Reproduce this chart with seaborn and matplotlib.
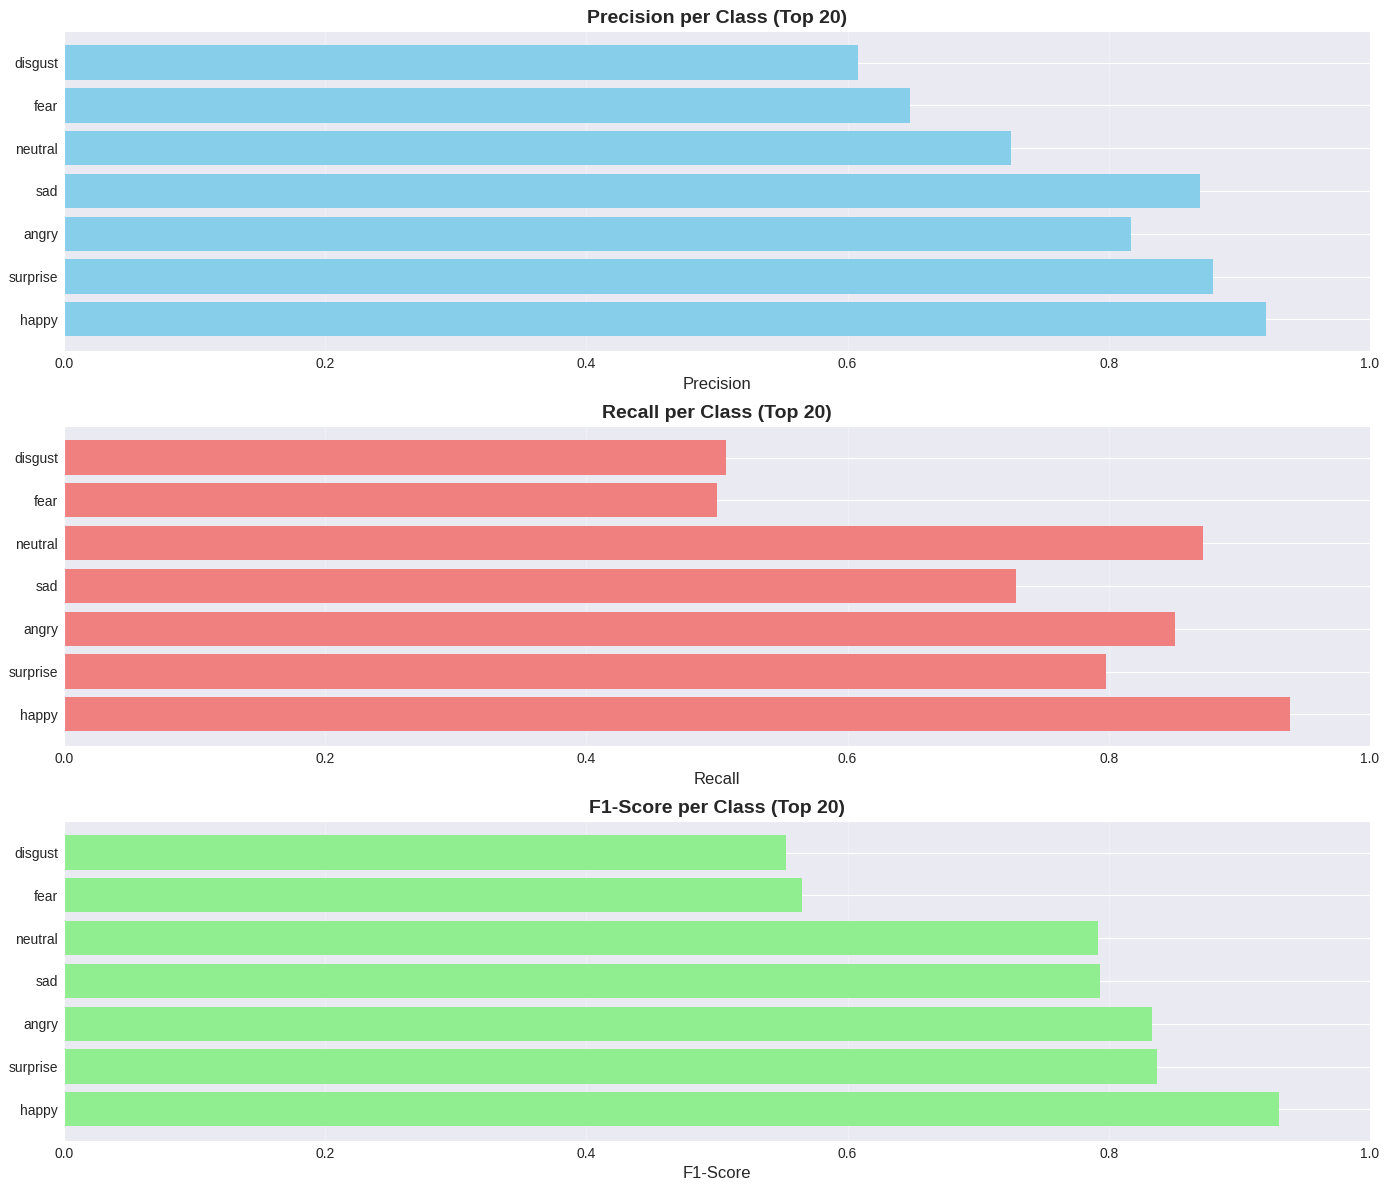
import pandas as pd
import matplotlib
matplotlib.use("Agg")
import matplotlib.pyplot as plt
import seaborn as sns

# class order from top to bottom, as in the picture
classes = ["disgust", "fear", "neutral", "sad", "angry", "surprise", "happy"]
precision = [0.608, 0.648, 0.725, 0.870, 0.817, 0.880, 0.920]
recall = [0.507, 0.500, 0.872, 0.729, 0.851, 0.798, 0.939]
f1_score = [0.553, 0.565, 0.792, 0.793, 0.833, 0.837, 0.930]

metrics = [
    ("Precision", precision, "skyblue"),
    ("Recall", recall, "lightcoral"),
    ("F1-Score", f1_score, "lightgreen"),
]

sns.set_style("darkgrid")
plt.rcParams["font.family"] = ["Liberation Sans", "DejaVu Sans"]

fig, axes = plt.subplots(3, 1, figsize=(13.9, 11.9), dpi=100)

for ax, (name, values, color) in zip(axes, metrics):
    df = pd.DataFrame({"Class": classes, name: values})
    sns.barplot(data=df, x=name, y="Class", order=classes, color=color,
                saturation=1, width=0.8, linewidth=0, ax=ax)
    ax.set_xlim(0, 1.0)
    ax.set_ylim(6.74, -0.74)
    ax.set_xlabel(name, fontsize=12)
    ax.set_ylabel("")
    ax.set_title(f"{name} per Class (Top 20)", fontsize=14, fontweight="bold")
    ax.tick_params(axis="both", labelsize=10, length=0, pad=4.3)
    ax.yaxis.grid(True)
    ax.xaxis.grid(True, alpha=0.3)
    ax.set_axisbelow(True)

plt.subplots_adjust(left=0.046, right=0.9856, top=0.974, bottom=0.0412,
                    hspace=0.234)
plt.savefig("out.png", dpi=100)
